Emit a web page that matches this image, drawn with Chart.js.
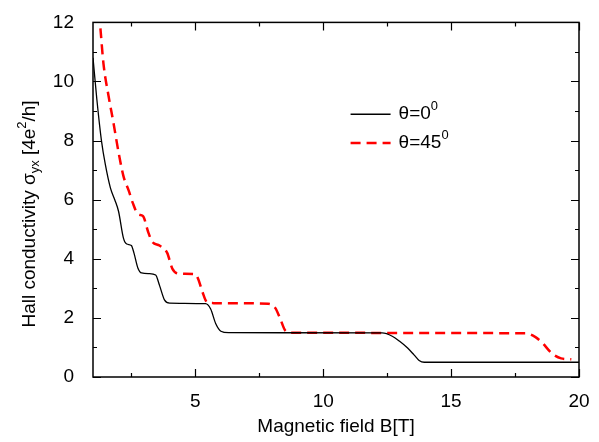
<!DOCTYPE html>
<html>
<head>
<meta charset="utf-8">
<script src="https://cdn.jsdelivr.net/npm/chart.js@4.4.0/dist/chart.umd.min.js"></script>
<style>
  html, body { margin: 0; padding: 0; background: #fff; }
  #c { display: block; }
</style>
</head>
<body>
<canvas id="c" width="599" height="442"></canvas>
<script>
// theta = 0 deg (solid black)
const field0 = [1.0, 1.15, 1.33, 1.48, 1.68, 1.85, 2.0, 2.19, 2.32, 2.5, 2.6, 2.75, 2.9, 3.2, 3.45, 3.6, 3.8, 4.0, 5.4, 5.6, 5.8, 6.0, 6.3, 12.3, 12.7, 13.0, 13.3, 13.55, 13.75, 13.95, 14.5, 20.0];
const sigma0 = [10.8, 9.4, 8.0, 7.2, 6.4, 6.0, 5.6, 4.7, 4.5, 4.45, 4.2, 3.7, 3.52, 3.5, 3.45, 3.1, 2.6, 2.5, 2.48, 2.3, 1.8, 1.55, 1.5, 1.49, 1.38, 1.2, 0.98, 0.75, 0.56, 0.5, 0.5, 0.5];
// theta = 45 deg (dashed red)
const field45 = [1.29, 1.41, 1.61, 1.8, 2.0, 2.19, 2.4, 2.55, 2.77, 2.95, 3.16, 3.32, 3.6, 3.9, 4.1, 4.35, 5.0, 5.12, 5.27, 5.47, 5.7, 7.85, 8.13, 8.32, 8.52, 8.75, 17.9, 18.3, 18.55, 18.94, 19.3, 19.7];
const sigma45 = [11.8, 10.6, 9.5, 8.6, 7.6, 6.8, 6.3, 5.9, 5.5, 5.45, 4.9, 4.57, 4.45, 4.2, 3.67, 3.5, 3.48, 3.3, 2.9, 2.52, 2.5, 2.48, 2.33, 1.97, 1.57, 1.5, 1.48, 1.35, 1.17, 0.8, 0.63, 0.6];

const xMajor = [5, 10, 15, 20];
const xMinor = [2.5, 7.5, 12.5, 17.5];
const yMajor = [0, 2, 4, 6, 8, 10, 12];
const yMinor = [1, 3, 5, 7, 9, 11];

const FONT = "'Liberation Sans', Arial, Helvetica, sans-serif";

function pts(xs, ys) { return xs.map((x, i) => ({ x: x, y: ys[i] })); }

// frame with inward ticks on all four sides
const framePlugin = {
    id: 'frame',
    afterDatasetsDraw(chart) {
        const { ctx, chartArea: a, scales: { x, y } } = chart;
        ctx.save();
        ctx.strokeStyle = '#000';
        ctx.lineWidth = 1.5;
        ctx.strokeRect(a.left, a.top, a.right - a.left, a.bottom - a.top);
        ctx.lineWidth = 1.2;
        ctx.beginPath();
        const tx = (v, len) => {
            const p = Math.round(x.getPixelForValue(v)) + 0.5;
            ctx.moveTo(p, a.bottom); ctx.lineTo(p, a.bottom - len);
            ctx.moveTo(p, a.top); ctx.lineTo(p, a.top + len);
        };
        const ty = (v, len) => {
            const p = Math.round(y.getPixelForValue(v)) + 0.5;
            ctx.moveTo(a.left, p); ctx.lineTo(a.left + len, p);
            ctx.moveTo(a.right, p); ctx.lineTo(a.right - len, p);
        };
        xMajor.forEach(v => tx(v, 8));
        xMinor.forEach(v => tx(v, 4));
        yMajor.forEach(v => ty(v, 8));
        yMinor.forEach(v => ty(v, 4));
        ctx.stroke();
        ctx.restore();
    }
};

// text with sub/superscripts, drawn piece by piece
function richText(ctx, parts, size) {
    let w = 0;
    parts.forEach(p => {
        ctx.font = (p.s ? size * 0.68 : size) + 'px ' + FONT;
        w += ctx.measureText(p.t).width;
    });
    return w;
}
function drawRich(ctx, parts, size, x0, y0) {
    let x = x0;
    parts.forEach(p => {
        const fs = p.s ? size * 0.68 : size;
        ctx.font = fs + 'px ' + FONT;
        const dy = p.s === 'sup' ? -size * 0.42 : (p.s === 'sub' ? size * 0.3 : 0);
        ctx.fillText(p.t, x, y0 + dy);
        x += ctx.measureText(p.t).width;
    });
}

const labelsPlugin = {
    id: 'labels',
    afterDraw(chart) {
        const { ctx, chartArea: a } = chart;
        const size = 19;
        ctx.save();
        ctx.fillStyle = '#000';
        ctx.textBaseline = 'middle';
        // y axis title
        const yt = [{ t: 'Hall conductivity σ' }, { t: 'yx', s: 'sub' }, { t: ' [4e' }, { t: '2', s: 'sup' }, { t: '/h]' }];
        const w = richText(ctx, yt, size);
        ctx.translate(30, 214);
        ctx.rotate(-Math.PI / 2);
        drawRich(ctx, yt, size, -w / 2, 0);
        ctx.restore();

        // legend
        ctx.save();
        ctx.textBaseline = 'middle';
        ctx.fillStyle = '#000';
        const lx = a.left + (a.right - a.left) * 0.53;
        const rows = [
            { color: '#000', dash: [], width: 1.3, text: [{ t: 'θ=0' }, { t: '0', s: 'sup' }], y: a.top + (a.bottom - a.top) * 0.259 },
            { color: '#ff0000', dash: [10, 6], width: 2.5, text: [{ t: 'θ=45' }, { t: '0', s: 'sup' }], y: a.top + (a.bottom - a.top) * 0.34 }
        ];
        rows.forEach(r => {
            ctx.strokeStyle = r.color;
            ctx.lineWidth = r.width;
            ctx.setLineDash(r.dash);
            ctx.beginPath();
            ctx.moveTo(lx, r.y);
            ctx.lineTo(lx + 40, r.y);
            ctx.stroke();
            drawRich(ctx, r.text, size, lx + 48, r.y);
        });
        ctx.restore();
    }
};

new Chart(document.getElementById('c'), {
    type: 'line',
    data: {
        datasets: [
            { label: 'θ=0', data: pts(field0, sigma0), borderColor: '#000', borderWidth: 1.3, pointRadius: 0, cubicInterpolationMode: 'monotone', fill: false },
            { label: 'θ=45', data: pts(field45, sigma45), borderColor: '#ff0000', borderWidth: 2.5, borderDash: [10, 6], pointRadius: 0, cubicInterpolationMode: 'monotone', fill: false }
        ]
    },
    options: {
        responsive: false,
        animation: false,
        layout: { padding: { top: 18, right: 20, left: 0, bottom: 0 } },
        plugins: { legend: { display: false }, tooltip: { enabled: false } },
        scales: {
            x: {
                type: 'linear', min: 1, max: 20,
                afterBuildTicks: s => { s.ticks = xMajor.map(v => ({ value: v })); },
                afterFit: s => { s.height = 65; },
                grid: { display: false }, border: { display: false },
                ticks: { color: '#000', font: { size: 19, family: FONT }, padding: 5, maxRotation: 0 },
                title: { display: true, text: 'Magnetic field B[T]', color: '#000', font: { size: 19, family: FONT } }
            },
            y: {
                type: 'linear', min: 0, max: 12,
                afterBuildTicks: s => { s.ticks = yMajor.map(v => ({ value: v })); },
                afterFit: s => { s.width = 93; },
                grid: { display: false }, border: { display: false },
                ticks: { color: '#000', font: { size: 19, family: FONT }, padding: 11 }
            }
        }
    },
    plugins: [framePlugin, labelsPlugin]
});
</script>
</body>
</html>
